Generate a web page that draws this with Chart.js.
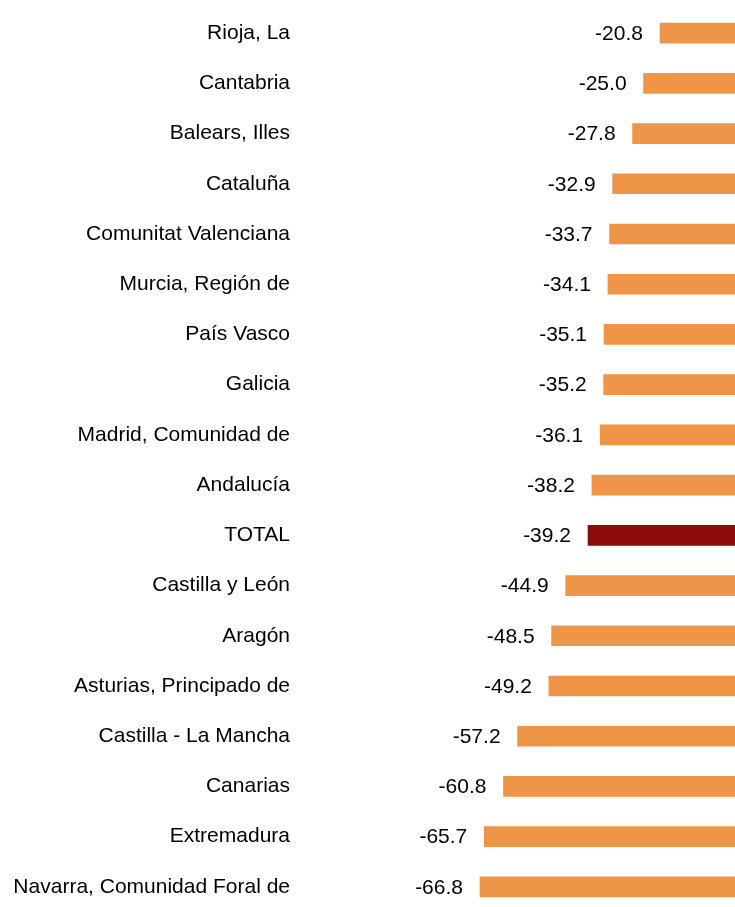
<!DOCTYPE html>
<html>
<head>
<meta charset="utf-8">
<script src="https://cdn.jsdelivr.net/npm/chart.js@4/dist/chart.umd.min.js"></script>
<style>
  html, body { margin: 0; padding: 0; background: #fff; overflow: hidden; }
  #wrap { position: relative; width: 735px; height: 912px; }
</style>
</head>
<body>
<div id="wrap"><canvas id="myChart"></canvas></div>
<script>
/* datos: variación por comunidad autónoma */
let labels = ["Rioja, La","Cantabria","Balears, Illes","Cataluña","Comunitat Valenciana",
  "Murcia, Región de","País Vasco","Galicia","Madrid, Comunidad de","Andalucía","TOTAL",
  "Castilla y León","Aragón","Asturias, Principado de","Castilla - La Mancha","Canarias",
  "Extremadura","Navarra, Comunidad Foral de"];
let values = [-20.8,-25.0,-27.8,-32.9,-33.7,-34.1,-35.1,-35.2,-36.1,-38.2,-39.2,
  -44.9,-48.5,-49.2,-57.2,-60.8,-65.7,-66.8];

let orange = '#EF9548';
let darkRed = '#8B0B0B';
/* TOTAL en rojo oscuro */
let colors = labels.map(l => l === 'TOTAL' ? darkRed : orange);

/* etiquetas de valor a la izquierda de cada barra */
let valueLabels = {
  id: 'valueLabels',
  afterDatasetsDraw(chart) {
    let c = chart.ctx;
    let meta = chart.getDatasetMeta(0);
    c.save();
    c.font = '21px "Liberation Sans", Arial, sans-serif';
    c.fillStyle = '#000';
    c.textAlign = 'right';
    c.textBaseline = 'middle';
    meta.data.forEach((bar, i) => {
      c.fillText(values[i].toFixed(1), bar.x - 17, bar.y + 1);
    });
    c.restore();
  }
};

let ctx = document.getElementById('myChart').getContext('2d');
let myBarChart = new Chart(ctx, {
  type: 'bar',
  data: {
    labels: labels,
    datasets: [{
      data: values,
      backgroundColor: colors,
      borderWidth: 0,
      barThickness: 20
    }]
  },
  options: {
    indexAxis: 'y',
    responsive: true,
    maintainAspectRatio: false,
    animation: false,
    layout: { padding: { top: 8, right: 0, bottom: 0, left: 0 } },
    plugins: {
      legend: { display: false },
      tooltip: { enabled: false }
    },
    scales: {
      x: {
        display: false,
        min: -112.8,
        max: -1.63
      },
      y: {
        grid: { display: false, drawTicks: false },
        border: { display: false },
        ticks: {
          color: '#000',
          padding: 10,
          font: { family: '"Liberation Sans", Arial, sans-serif', size: 21 }
        },
        // ancho fijo del eje y sin relleno arriba/abajo
        afterFit(scale) {
          scale.width = 300;
          scale.paddingTop = 0;
          scale.paddingBottom = 0;
        }
      }
    }
  },
  plugins: [valueLabels]
});
</script>
</body>
</html>
